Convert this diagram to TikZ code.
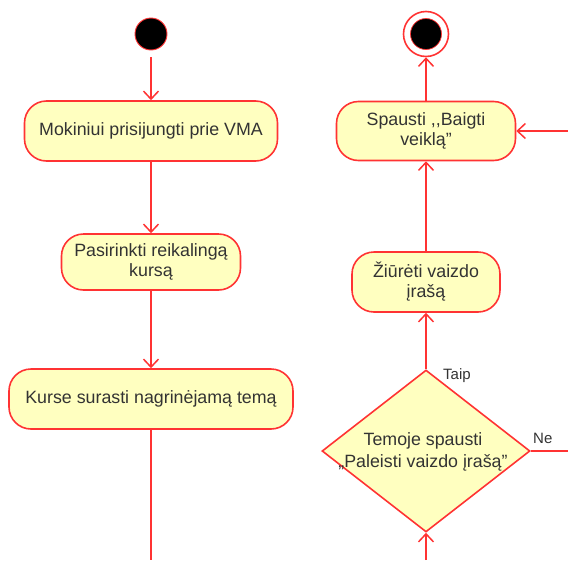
\documentclass[tikz,border=0pt]{standalone}
\usepackage{fontspec}
\setmainfont{Liberation Sans}
\usetikzlibrary{shapes.geometric,arrows.meta}
\definecolor{lnred}{HTML}{FF3333}
\definecolor{fillyel}{HTML}{FFFFC0}
\definecolor{txtc}{HTML}{333333}
\newcommand{\sq}{\symbol{34}}
\begin{document}
\begin{tikzpicture}[x=1pt,y=-1pt,
  act/.style={draw=lnred, fill=fillyel, rounded corners=22pt, line width=1.6pt,
    font=\fontsize{17.8}{20}\selectfont, text=txtc, align=center, inner sep=0pt},
  dec/.style={draw=lnred, fill=fillyel, shape=diamond, line width=1.6pt, inner sep=0pt},
  conn/.style={draw=lnred, line width=1.6pt, -{Straight Barb[length=8pt,width=15pt,line width=1.5pt]}},
  plainconn/.style={draw=lnred, line width=1.6pt},
  lbl/.style={font=\fontsize{15}{18}\selectfont, text=txtc, inner sep=0pt, anchor=base west}
]
\useasboundingbox (0,0) rectangle (568,560);
% start
\node[circle, fill=black, draw=lnred, line width=0.9pt, minimum size=32pt, inner sep=0pt] (start) at (151,34) {};
% left column
\node[act, minimum width=253pt, minimum height=60pt] (b1) at (151,131) {Mokiniui prisijungti prie VMA};
\node[act, minimum width=179pt, minimum height=56pt] (b2) at (151,262) {Pasirinkti reikalingą\\kursą};
\node[act, minimum width=284pt, minimum height=60pt] (b3) at (151,399) {Kurse surasti nagrinėjamą temą};
\coordinate (b3out) at (151,560);
% right column
\node[circle, draw=lnred, fill=white, line width=1.6pt, minimum size=45pt, inner sep=0pt] (end) at (426,34) {};
\node[circle, fill=black, draw=lnred, line width=0.7pt, minimum size=31pt, inner sep=0pt] (endin) at (426,34) {};
\node[act, minimum width=179pt, minimum height=59pt] (b4) at (426,131) {Spausti {,}{,}Baigti\\veiklą\sq};
\node[act, minimum width=148pt, minimum height=60pt] (b5) at (426,282) {Žiūrėti vaizdo\\įrašą};
\node[dec, minimum width=208pt, minimum height=162pt] (d1) at (426,451) {};
\node[font=\fontsize{17.8}{22}\selectfont, text=txtc, align=center, inner sep=0pt] (d1t) at (423,452) {Temoje spausti\\„Paleisti vaizdo įrašą\sq};
\coordinate (b4in) at (568,131);
\coordinate (d1out) at (568,451);
\coordinate (d1in) at (426,560);
% labels
\node[lbl] (taip) at (443,379) {Taip};
\node[lbl] (ne) at (533,443) {Ne};
% connectors
\draw[conn, shorten <=7pt] (start) -- (b1);
\draw[conn] (b1) -- (b2);
\draw[conn] (b2) -- (b3);
\draw[plainconn] (b3) -- (b3out);
\draw[conn] (b4) -- (end);
\draw[conn] (b4in) -- (b4);
\draw[conn] (b5) -- (b4);
\draw[conn] (d1) -- (b5);
\draw[plainconn] (d1.east) -- (d1out);
\draw[conn] (d1in) -- (d1.south);
\end{tikzpicture}
\end{document}
